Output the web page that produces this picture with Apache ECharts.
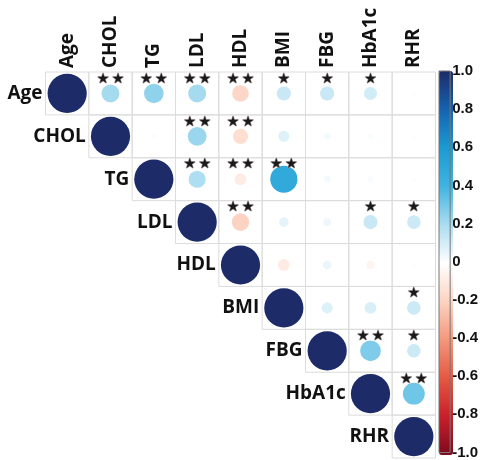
<!DOCTYPE html>
<html><head><meta charset="utf-8">
<script src="https://cdn.jsdelivr.net/npm/echarts@6/dist/echarts.min.js"></script>
<style>html,body{margin:0;padding:0;background:#fff}#c{width:481px;height:460px}</style>
</head><body><div id="c"></div>
<script>
// Variables
const categories = ['Age','CHOL','TG','LDL','HDL','BMI','FBG','HbA1c','RHR'];
// Upper-triangle correlations, each row starts at the diagonal
const rAge   = [1, 0.21, 0.25, 0.21, -0.18, 0.13, 0.13, 0.11, 0.01];
const rCHOL  = [1, -0.02, 0.23, -0.15, 0.08, 0.03, 0.02, 0.01];
const rTG    = [1, 0.19, -0.09, 0.48, 0.03, 0.02, -0.01];
const rLDL   = [1, -0.20, 0.06, 0.04, 0.13, 0.12];
const rHDL   = [1, -0.09, 0.05, -0.05, 0.01];
const rBMI   = [1, 0.08, 0.09, 0.12];
const rFBG   = [1, 0.28, 0.12];
const rHbA1c = [1, 0.31];
const rRHR   = [1];
// Significance stars (count) in the same layout
const sAge   = [0, 2, 2, 2, 2, 1, 1, 1, 0];
const sCHOL  = [0, 0, 2, 2, 0, 0, 0, 0];
const sTG    = [0, 2, 2, 2, 0, 0, 0];
const sLDL   = [0, 2, 0, 0, 1, 1];
const sHDL   = [0, 0, 0, 0, 0];
const sBMI   = [0, 0, 0, 1];
const sFBG   = [0, 2, 1];
const sHbA1c = [0, 2];
const sRHR   = [0];
// Colour bar
const barMin = -1, barMax = 1, barStep = 0.2;
const palette = ['#7d0a1c','#c91f2b','#e55842','#f3977c','#fcd3c2','#ffffff','#aadcf0','#3fb4e0','#1b9ad3','#1563b0','#1d2b68'];

const rows = [rAge, rCHOL, rTG, rLDL, rHDL, rBMI, rFBG, rHbA1c, rRHR];
const starRows = [sAge, sCHOL, sTG, sLDL, sHDL, sBMI, sFBG, sHbA1c, sRHR];
const data = [];
rows.forEach((row, i) => row.forEach((v, k) => {
  data.push([i + k, i, v, starRows[i][k]]);
}));

function renderItem(params, api) {
  const x = api.value(0), y = api.value(1), v = api.value(2), s = api.value(3);
  const c = api.coord([x, y]);
  const sz = api.size([1, 1]);
  const w = sz[0], h = sz[1];
  const children = [];
  children.push({type: 'rect', shape: {x: c[0] - w / 2, y: c[1] - h / 2, width: w, height: h},
    style: {fill: null, stroke: '#dcdcdc', lineWidth: 1}});
  const rad = 0.457 * Math.min(w, h) * Math.sqrt(Math.abs(v));
  children.push({type: 'circle', shape: {cx: c[0], cy: c[1], r: rad}, style: {fill: api.visual('color')}});
  const offs = s === 2 ? [-7.5, 7.5] : (s === 1 ? [0] : []);
  offs.forEach(dx => {
    children.push({type: 'text', z2: 10, style: {text: '★', x: c[0] + dx, y: c[1] - h / 2 + 7,
      align: 'center', verticalAlign: 'middle', fontSize: 14, fontFamily: 'DejaVu Sans',
      fill: '#1a1a1a', stroke: '#a09494', lineWidth: 1.2}});
  });
  if (x === y) {
    children.push({type: 'text', style: {text: categories[y], x: c[0] - w / 2 - 3, y: c[1],
      align: 'right', verticalAlign: 'middle', fontSize: 19, fontWeight: 'bold',
      fontFamily: 'Open Sans', fill: '#111'}});
  }
  return {type: 'group', children};
}

const chart = echarts.init(document.getElementById('c'));
chart.setOption({
  animation: false,
  grid: [
    {left: 45.5, top: 72, width: 390, height: 386},
    {left: 439, top: 71, width: 14, height: 384, show: true, borderColor: '#777', borderWidth: 1, z: 10, backgroundColor: 'transparent'}
  ],
  xAxis: [
    {type: 'category', data: categories, position: 'top', gridIndex: 0,
      axisLine: {show: false}, axisTick: {show: false}, splitLine: {show: false},
      axisLabel: {rotate: -90, fontSize: 19, fontWeight: 'bold', color: '#111', fontFamily: 'Open Sans', margin: 4, interval: 0}},
    {type: 'value', gridIndex: 1, show: false, min: 0, max: 1}
  ],
  yAxis: [
    {type: 'category', data: categories, inverse: true, gridIndex: 0, show: false},
    {type: 'value', gridIndex: 1, min: barMin, max: barMax, interval: barStep, position: 'right',
      axisLine: {show: false}, splitLine: {show: false},
      axisTick: {show: true, length: 3, lineStyle: {color: '#333'}},
      axisLabel: {fontSize: 15, fontWeight: 'bold', color: '#111', fontFamily: 'Liberation Sans', margin: 2,
        formatter: v => Math.abs(v) < 1e-9 ? '0' : v.toFixed(1)}}
  ],
  visualMap: {type: 'continuous', min: barMin, max: barMax, dimension: 2, seriesIndex: 0,
    inRange: {color: palette}, left: 439, top: 71, itemWidth: 14, itemHeight: 384,
    calculable: false, padding: 0, orient: 'vertical', showLabel: false, hoverLink: false},
  series: [{type: 'custom', xAxisIndex: 0, yAxisIndex: 0, data: data, renderItem: renderItem, clip: false}]
});
</script>
</body></html>
